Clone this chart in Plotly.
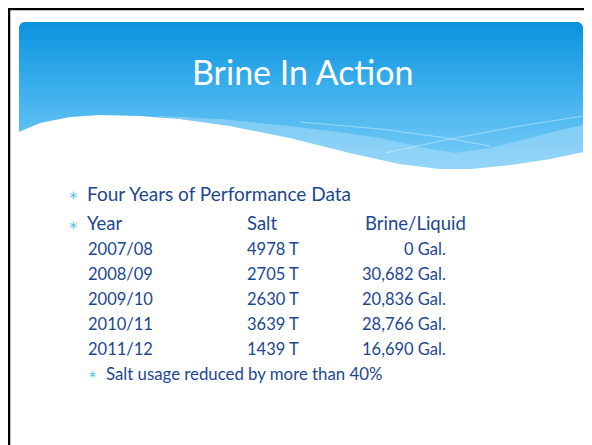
import plotly.graph_objects as go

# ---- data ----
title_text = "Brine In Action"
intro_text = "Four Years of Performance Data"
col_headers = ["Year", "Salt", "Brine/Liquid"]
years = ["2007/08", "2008/09", "2009/10", "2010/11", "2011/12"]
salt_tons = [4978, 2705, 2630, 3639, 1439]
brine_gal = [0, 30682, 20836, 28766, 16690]
summary_text = "Salt usage reduced by more than 40%"

W, H = 592, 445
OFF = 8  # page body margin
TEXT = "#1c478f"
BULLET = "#5cc2f2"
FONT = "Lato"

fig = go.Figure()

# header banner (rounded top, wavy bottom)
top_x = [19, 19, 20, 21.5, 24, 578, 580.5, 582, 583, 583]
top_y = [132, 27, 24.5, 23, 22, 22, 23, 24.5, 27, 152]
wave_x = [583, 550, 510, 470, 440, 400, 350, 290, 230, 180, 140, 100, 70, 40, 19]
wave_y = [152, 159, 165, 169, 169, 164, 153, 138, 126, 119, 116, 115, 117, 123, 132]
fig.add_trace(go.Scatter(
    x=top_x + wave_x, y=top_y + wave_y, mode="lines", fill="toself",
    line=dict(width=0), hoverinfo="skip", showlegend=False,
    fillgradient=dict(type="vertical", start=22, stop=165,
                      colorscale=[[0, "#0a93df"], [0.55, "#45b4ee"], [1, "#78cbf7"]]),
))

# lighter textured band
dark_x = [160, 220, 280, 330, 380, 420, 455, 490, 530, 560, 583]
dark_y = [116, 119, 125, 131, 138, 147, 153, 148, 138, 130, 125]
bx = dark_x + [583, 550, 510, 470, 440, 400, 350, 290, 230, 180, 160]
by = dark_y + [152, 159, 165, 169, 169, 164, 153, 138, 126, 119, 117]
fig.add_trace(go.Scatter(
    x=bx, y=by, mode="lines", fill="toself", fillcolor="rgba(180,224,250,0.45)",
    line=dict(width=0), hoverinfo="skip", showlegend=False))

# thin highlight lines
fig.add_trace(go.Scatter(x=[300, 380, 440, 490], y=[122, 129, 137, 146], mode="lines",
                         line=dict(color="rgba(255,255,255,0.4)", width=1),
                         hoverinfo="skip", showlegend=False))
fig.add_trace(go.Scatter(x=[385, 450, 520, 583], y=[153, 139, 126, 116], mode="lines",
                         line=dict(color="rgba(255,255,255,0.4)", width=1),
                         hoverinfo="skip", showlegend=False))

# slide frame lines
fig.add_shape(type="line", x0=8, x1=600, y0=9, y1=9, line=dict(color="black", width=2.5))
fig.add_shape(type="line", x0=9, x1=9, y0=8, y1=460, line=dict(color="black", width=2.5))

# title
fig.add_annotation(x=303, y=71, text=title_text, showarrow=False,
                   font=dict(family=FONT, size=34, color="white"),
                   xanchor="center", yanchor="middle")

def bullet(x, y, size=12):
    fig.add_annotation(x=x, y=y, text="∗", showarrow=False,
                       font=dict(family="DejaVu Sans", size=size, color=BULLET),
                       xanchor="center", yanchor="middle")

def txt(x, y, s, size, anchor="left"):
    fig.add_annotation(x=x, y=y, text=s, showarrow=False,
                       font=dict(family=FONT, size=size, color=TEXT),
                       xanchor=anchor, yanchor="middle")

bullet(73, 195)
txt(85, 193, intro_text, 19)
bullet(73, 225)
txt(85, 223, col_headers[0], 18.5)
txt(245, 223, col_headers[1], 18.5)
txt(363, 223, col_headers[2], 18.5)

row_y = [249, 274, 299, 324, 349]
for yv, yr, s, b in zip(row_y, years, salt_tons, brine_gal):
    txt(86, yv, yr, 16.5)
    txt(245, yv, f"{s} T", 16.5)
    txt(448, yv, f"{b:,} Gal.", 16.5, anchor="right")

bullet(92, 374, 11)
txt(104, 373, summary_text, 16.8)

# compensate for the 8px page margin so x/y map to window pixels
fig.update_xaxes(range=[OFF, W + OFF], visible=False, fixedrange=True)
fig.update_yaxes(range=[H + OFF, OFF], visible=False, fixedrange=True)
fig.update_layout(width=W, height=H, margin=dict(l=0, r=0, t=0, b=0),
                  paper_bgcolor="white", plot_bgcolor="white", showlegend=False)
fig.write_html("out.html", config={"displayModeBar": False})
